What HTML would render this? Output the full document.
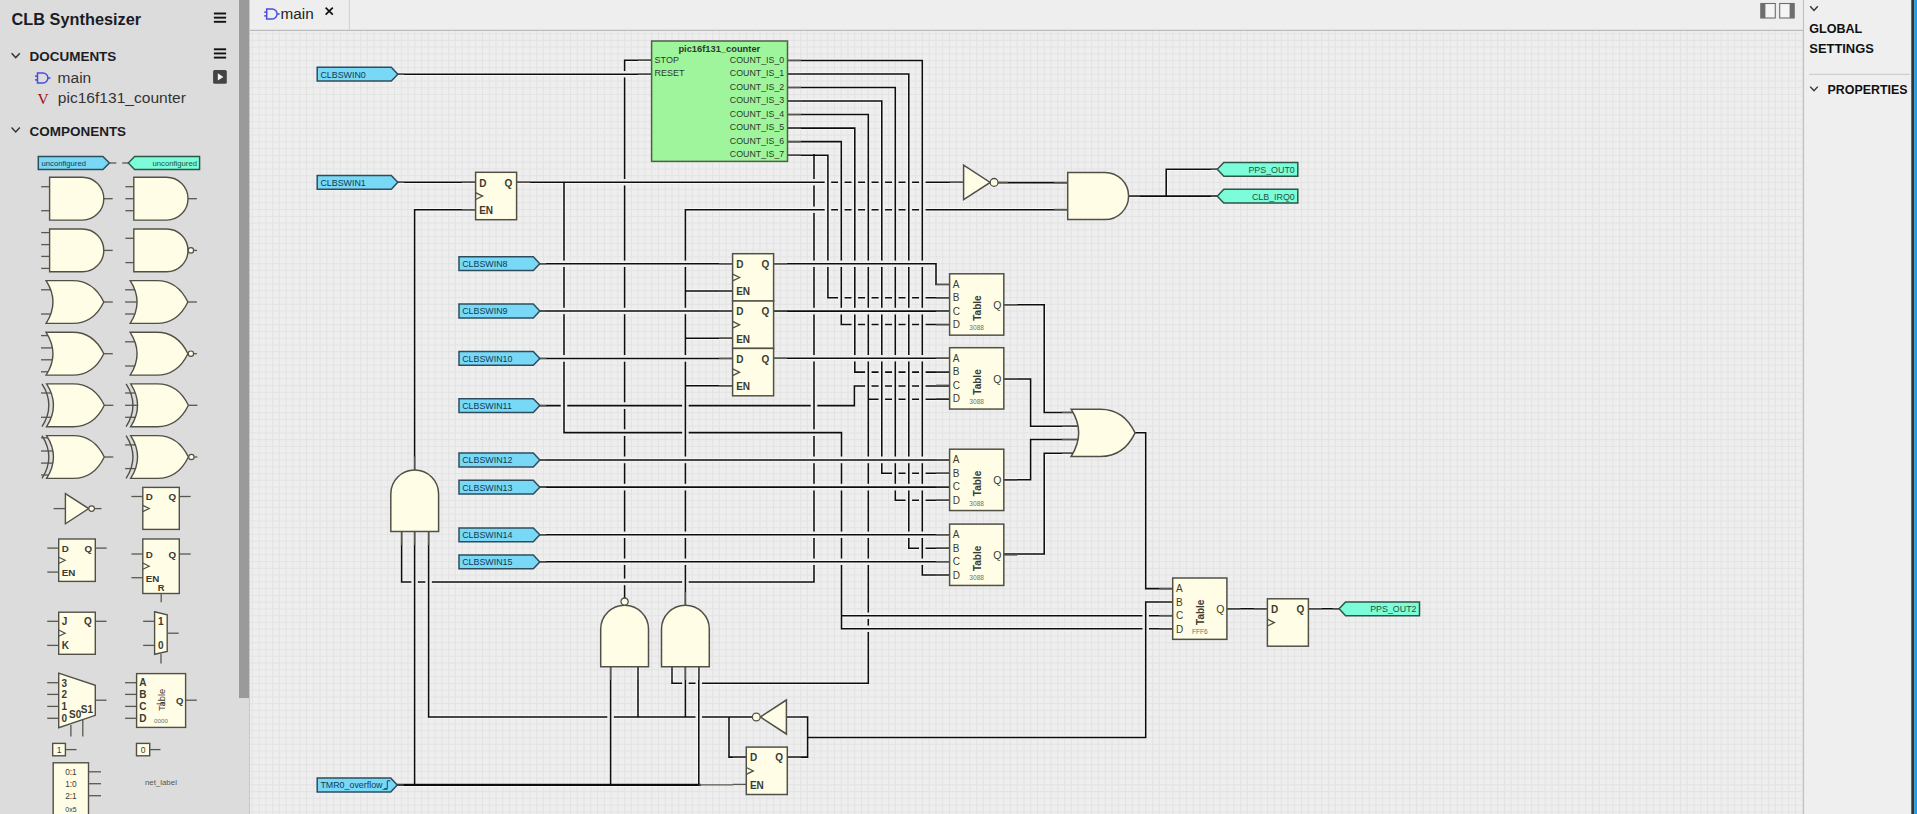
<!DOCTYPE html>
<html><head><meta charset="utf-8"><title>CLB Synthesizer</title>
<style>
html,body{margin:0;padding:0;width:1917px;height:814px;overflow:hidden;background:#efefef;}
svg{display:block;font-family:"Liberation Sans", sans-serif;}
</style></head><body>
<svg width="1917" height="814" viewBox="0 0 1917 814" font-family='"Liberation Sans", sans-serif'>
<defs>
</defs>
<rect x="0" y="0" width="1917" height="814" fill="#efefef"/>
<rect x="0" y="0" width="239" height="814" fill="#dcdcdc"/>
<rect x="239" y="0" width="10" height="698.3" fill="#9a9a9a"/>
<rect x="239" y="698.3" width="10" height="115.70000000000005" fill="#dcdcdc"/>
<rect x="249" y="0" width="1554.5" height="30" fill="#eeeeee"/>
<rect x="249" y="30.5" width="1554" height="783.5" fill="#eeeeee"/>
<path d="M252.4,31V814M259.17,31V814M265.94,31V814M272.7,31V814M279.47,31V814M286.24,31V814M293.01,31V814M299.78,31V814M306.54,31V814M313.31,31V814M320.08,31V814M326.85,31V814M333.62,31V814M340.38,31V814M347.15,31V814M353.92,31V814M360.69,31V814M367.46,31V814M374.22,31V814M380.99,31V814M387.76,31V814M394.53,31V814M401.3,31V814M408.06,31V814M414.83,31V814M421.6,31V814M428.37,31V814M435.14,31V814M441.9,31V814M448.67,31V814M455.44,31V814M462.21,31V814M468.98,31V814M475.74,31V814M482.51,31V814M489.28,31V814M496.05,31V814M502.82,31V814M509.58,31V814M516.35,31V814M523.12,31V814M529.89,31V814M536.66,31V814M543.42,31V814M550.19,31V814M556.96,31V814M563.73,31V814M570.5,31V814M577.26,31V814M584.03,31V814M590.8,31V814M597.57,31V814M604.34,31V814M611.1,31V814M617.87,31V814M624.64,31V814M631.41,31V814M638.18,31V814M644.94,31V814M651.71,31V814M658.48,31V814M665.25,31V814M672.02,31V814M678.78,31V814M685.55,31V814M692.32,31V814M699.09,31V814M705.86,31V814M712.62,31V814M719.39,31V814M726.16,31V814M732.93,31V814M739.7,31V814M746.46,31V814M753.23,31V814M760,31V814M766.77,31V814M773.54,31V814M780.3,31V814M787.07,31V814M793.84,31V814M800.61,31V814M807.38,31V814M814.14,31V814M820.91,31V814M827.68,31V814M834.45,31V814M841.22,31V814M847.98,31V814M854.75,31V814M861.52,31V814M868.29,31V814M875.06,31V814M881.82,31V814M888.59,31V814M895.36,31V814M902.13,31V814M908.9,31V814M915.66,31V814M922.43,31V814M929.2,31V814M935.97,31V814M942.74,31V814M949.5,31V814M956.27,31V814M963.04,31V814M969.81,31V814M976.58,31V814M983.34,31V814M990.11,31V814M996.88,31V814M1003.65,31V814M1010.42,31V814M1017.18,31V814M1023.95,31V814M1030.72,31V814M1037.49,31V814M1044.26,31V814M1051.02,31V814M1057.79,31V814M1064.56,31V814M1071.33,31V814M1078.1,31V814M1084.86,31V814M1091.63,31V814M1098.4,31V814M1105.17,31V814M1111.94,31V814M1118.7,31V814M1125.47,31V814M1132.24,31V814M1139.01,31V814M1145.78,31V814M1152.54,31V814M1159.31,31V814M1166.08,31V814M1172.85,31V814M1179.62,31V814M1186.38,31V814M1193.15,31V814M1199.92,31V814M1206.69,31V814M1213.46,31V814M1220.22,31V814M1226.99,31V814M1233.76,31V814M1240.53,31V814M1247.3,31V814M1254.06,31V814M1260.83,31V814M1267.6,31V814M1274.37,31V814M1281.14,31V814M1287.9,31V814M1294.67,31V814M1301.44,31V814M1308.21,31V814M1314.98,31V814M1321.74,31V814M1328.51,31V814M1335.28,31V814M1342.05,31V814M1348.82,31V814M1355.58,31V814M1362.35,31V814M1369.12,31V814M1375.89,31V814M1382.66,31V814M1389.42,31V814M1396.19,31V814M1402.96,31V814M1409.73,31V814M1416.5,31V814M1423.26,31V814M1430.03,31V814M1436.8,31V814M1443.57,31V814M1450.34,31V814M1457.1,31V814M1463.87,31V814M1470.64,31V814M1477.41,31V814M1484.18,31V814M1490.94,31V814M1497.71,31V814M1504.48,31V814M1511.25,31V814M1518.02,31V814M1524.78,31V814M1531.55,31V814M1538.32,31V814M1545.09,31V814M1551.86,31V814M1558.62,31V814M1565.39,31V814M1572.16,31V814M1578.93,31V814M1585.7,31V814M1592.46,31V814M1599.23,31V814M1606,31V814M1612.77,31V814M1619.54,31V814M1626.3,31V814M1633.07,31V814M1639.84,31V814M1646.61,31V814M1653.38,31V814M1660.14,31V814M1666.91,31V814M1673.68,31V814M1680.45,31V814M1687.22,31V814M1693.98,31V814M1700.75,31V814M1707.52,31V814M1714.29,31V814M1721.06,31V814M1727.82,31V814M1734.59,31V814M1741.36,31V814M1748.13,31V814M1754.9,31V814M1761.66,31V814M1768.43,31V814M1775.2,31V814M1781.97,31V814M1788.74,31V814M1795.5,31V814M1802.27,31V814M249.5,33.6H1803M249.5,40.37H1803M249.5,47.14H1803M249.5,53.9H1803M249.5,60.67H1803M249.5,67.44H1803M249.5,74.21H1803M249.5,80.98H1803M249.5,87.74H1803M249.5,94.51H1803M249.5,101.28H1803M249.5,108.05H1803M249.5,114.82H1803M249.5,121.58H1803M249.5,128.35H1803M249.5,135.12H1803M249.5,141.89H1803M249.5,148.66H1803M249.5,155.42H1803M249.5,162.19H1803M249.5,168.96H1803M249.5,175.73H1803M249.5,182.5H1803M249.5,189.26H1803M249.5,196.03H1803M249.5,202.8H1803M249.5,209.57H1803M249.5,216.34H1803M249.5,223.1H1803M249.5,229.87H1803M249.5,236.64H1803M249.5,243.41H1803M249.5,250.18H1803M249.5,256.94H1803M249.5,263.71H1803M249.5,270.48H1803M249.5,277.25H1803M249.5,284.02H1803M249.5,290.78H1803M249.5,297.55H1803M249.5,304.32H1803M249.5,311.09H1803M249.5,317.86H1803M249.5,324.62H1803M249.5,331.39H1803M249.5,338.16H1803M249.5,344.93H1803M249.5,351.7H1803M249.5,358.46H1803M249.5,365.23H1803M249.5,372H1803M249.5,378.77H1803M249.5,385.54H1803M249.5,392.3H1803M249.5,399.07H1803M249.5,405.84H1803M249.5,412.61H1803M249.5,419.38H1803M249.5,426.14H1803M249.5,432.91H1803M249.5,439.68H1803M249.5,446.45H1803M249.5,453.22H1803M249.5,459.98H1803M249.5,466.75H1803M249.5,473.52H1803M249.5,480.29H1803M249.5,487.06H1803M249.5,493.82H1803M249.5,500.59H1803M249.5,507.36H1803M249.5,514.13H1803M249.5,520.9H1803M249.5,527.66H1803M249.5,534.43H1803M249.5,541.2H1803M249.5,547.97H1803M249.5,554.74H1803M249.5,561.5H1803M249.5,568.27H1803M249.5,575.04H1803M249.5,581.81H1803M249.5,588.58H1803M249.5,595.34H1803M249.5,602.11H1803M249.5,608.88H1803M249.5,615.65H1803M249.5,622.42H1803M249.5,629.18H1803M249.5,635.95H1803M249.5,642.72H1803M249.5,649.49H1803M249.5,656.26H1803M249.5,663.02H1803M249.5,669.79H1803M249.5,676.56H1803M249.5,683.33H1803M249.5,690.1H1803M249.5,696.86H1803M249.5,703.63H1803M249.5,710.4H1803M249.5,717.17H1803M249.5,723.94H1803M249.5,730.7H1803M249.5,737.47H1803M249.5,744.24H1803M249.5,751.01H1803M249.5,757.78H1803M249.5,764.54H1803M249.5,771.31H1803M249.5,778.08H1803M249.5,784.85H1803M249.5,791.62H1803M249.5,798.38H1803M249.5,805.15H1803M249.5,811.92H1803" stroke="#e3e3e3" stroke-width="1" fill="none"/>
<line x1="249" y1="30.4" x2="1803.5" y2="30.4" stroke="#bdbdbd" stroke-width="1.2" />
<line x1="249.5" y1="0" x2="249.5" y2="814" stroke="#c9c9c9" stroke-width="1" />
<line x1="349.3" y1="0" x2="349.3" y2="30" stroke="#cfcfcf" stroke-width="1" />
<line x1="1803.5" y1="0" x2="1803.5" y2="814" stroke="#c2c2c2" stroke-width="1.2" />
<rect x="1911.3" y="0" width="3" height="814" fill="#333333"/>
<rect x="1914.3" y="0" width="2.7" height="814" fill="#1c9de6"/>
<path d="M624.6,60.3H651.6M624.6,60.3V70.12M624.6,78.28V178.23M624.6,186.38V259.62M624.6,267.77V306.93M624.6,315.07V354.32M624.6,362.47V401.53M624.6,409.68V428.53M624.6,436.68V455.82M624.6,463.97V483.03M624.6,491.18V530.62M624.6,538.78V557.72M624.6,565.88V577.82M624.6,585.98V598M540,405.6H559.92M568.08,405.6H681.32M689.48,405.6H809.92M818.08,405.6H854.4M854.4,385.9V405.6M401.6,581.9H410.53M418.68,581.9H424.53M432.68,581.9H681.32M689.48,581.9H814M401.6,531.4V581.9M672,683.2H681.32M689.48,683.2H694.72M702.88,683.2H868.3M672,666.7V683.2M814,154.8V178.23M814,186.38V205.62M814,213.77V259.62M814,267.77V307.03M814,315.18V354.23M814,362.38V428.53M814,436.68V455.82M814,463.97V483.03M814,491.18V530.62M814,538.78V557.72M814,565.88V581.9M428.6,717H606.52M614.68,717H694.72M702.88,717H752.4M428.6,531.4V717M564,432.6H681.32M689.48,432.6H841.5M398,74.2H651.6M398,182.3H475.6M516.6,182.3H823.82M831.98,182.3H837.22M845.38,182.3H850.72M858.88,182.3H864.22M872.38,182.3H877.72M885.88,182.3H891.22M899.38,182.3H904.72M912.88,182.3H918.22M926.38,182.3H963.6M685.4,209.7H823.82M831.98,209.7H837.22M845.38,209.7H850.72M858.88,209.7H864.22M872.38,209.7H877.72M885.88,209.7H891.22M899.38,209.7H904.72M912.88,209.7H918.22M926.38,209.7H1067.7M998,182.6H1067.7M1128.6,196.1H1217.3M1166.2,169.3V196.1M1166.2,169.3H1217.3M1003.8,304.8H1044.2M1044.2,304.8V412.4M1044.2,412.4H1076M1003.8,379H1030.6M1030.6,379V426.2M1030.6,426.2H1077M1003.8,479.7H1030.6M1030.6,439.5V479.7M1030.6,439.5H1077M1003.8,554H1044.2M1044.2,453.3V554M1044.2,453.3H1075M1227.3,608.8H1267.4M1308.4,608.8H1339.1M564,182.3V259.62M564,267.77V306.93M564,315.07V354.32M564,362.47V432.6M685.4,209.7V259.62M685.4,267.77V306.93M685.4,315.07V354.32M685.4,362.47V455.82M685.4,463.97V483.03M685.4,491.18V530.62M685.4,538.78V557.72M685.4,565.88V605.3M685.4,291H732.6M685.4,338.3H732.6M685.4,385.7H732.6M414.6,531.4V784.9M610.6,666.7V784.9M698.8,666.7V784.9M414.6,209.7V470M414.6,209.7H475.6M638,666.7V717M685.4,666.7V717M729,717V757.1M729,757.1H746.3M787,757.1H807.6M807.6,717V757.1M786.4,717H807.6M854.4,385.9H864.22M872.38,385.9H877.72M885.88,385.9H891.22M899.38,385.9H904.72M912.88,385.9H918.22M926.38,385.9H949.6M922.3,575H949.6M908.8,548.2H918.22M926.38,548.2H949.6M895.3,500.3H904.72M912.88,500.3H918.22M926.38,500.3H949.6M881.8,473.3H891.22M899.38,473.3H904.72M912.88,473.3H918.22M926.38,473.3H949.6M868.3,399.2H877.72M885.88,399.2H891.22M899.38,399.2H904.72M912.88,399.2H918.22M926.38,399.2H949.6M854.8,372.1H864.22M872.38,372.1H877.72M885.88,372.1H891.22M899.38,372.1H904.72M912.88,372.1H918.22M926.38,372.1H949.6M841.3,324.5H850.72M858.88,324.5H864.22M872.38,324.5H877.72M885.88,324.5H891.22M899.38,324.5H904.72M912.88,324.5H918.22M926.38,324.5H949.6M827.9,297.8H837.22M845.38,297.8H850.72M858.88,297.8H864.22M872.38,297.8H877.72M885.88,297.8H891.22M899.38,297.8H904.72M912.88,297.8H918.22M926.38,297.8H949.6M841.5,432.6V455.82M841.5,463.97V483.03M841.5,491.18V530.62M841.5,538.78V557.72M841.5,565.88V628.8M787.5,60.4H922.3M922.3,60.4V259.62M922.3,267.77V307.03M922.3,315.18V354.23M922.3,362.38V455.82M922.3,463.97V483.03M922.3,491.18V530.62M922.3,538.78V557.72M922.3,565.88V575M787.5,73.94H908.8M908.8,73.94V259.62M908.8,267.77V307.03M908.8,315.18V354.23M908.8,362.38V455.82M908.8,463.97V483.03M908.8,491.18V530.62M908.8,538.78V548.2M787.5,87.48H895.3M895.3,87.48V259.62M895.3,267.77V307.03M895.3,315.18V354.23M895.3,362.38V455.82M895.3,463.97V483.03M895.3,491.18V500.3M787.5,101.02H881.8M881.8,101.02V259.62M881.8,267.77V307.03M881.8,315.18V354.23M881.8,362.38V455.82M881.8,463.97V473.3M787.5,114.56H868.3M868.3,114.56V259.62M868.3,267.77V307.03M868.3,315.18V354.23M868.3,362.38V399.2M787.5,128.1H854.8M854.8,128.1V259.62M854.8,267.77V307.03M854.8,315.18V354.23M854.8,362.38V372.1M787.5,141.64H841.3M841.3,141.64V259.62M841.3,267.77V307.03M841.3,315.18V324.5M787.5,155.18H827.9M827.9,155.18V259.62M827.9,267.77V297.8M868.3,399.2V455.82M868.3,463.97V483.03M868.3,491.18V530.62M868.3,538.78V557.72M868.3,565.88V611.62M868.3,619.78V624.72M868.3,632.88V683.2M841.5,628.8H1141.62M1149.78,628.8H1172.7M841.5,615.7H1141.62M1149.78,615.7H1172.7M540,263.7H732.6M773.6,263.7H936M936,263.7V284.4M936,284.4H949.6M540,311H732.6M773.6,311.1H949.6M540,358.4H732.6M773.6,358.3H949.6M540,459.9H949.6M540,487.1H949.6M540,534.7H949.6M540,561.8H949.6M1135,432.7H1145.7M1145.7,432.7V588.6M1145.7,588.6H1172.7M807.6,737.4H1145.7M1145.7,601.9V737.4M1145.7,601.9H1172.7" fill="none" stroke="#f6f6f6" stroke-width="3.35" stroke-linecap="butt"/><path d="M397.2,784.9H699.6" fill="none" stroke="#f6f6f6" stroke-width="4.0" stroke-linecap="butt"/><path d="M624.6,60.3H651.6M624.6,60.3V70.12M624.6,78.28V178.23M624.6,186.38V259.62M624.6,267.77V306.93M624.6,315.07V354.32M624.6,362.47V401.53M624.6,409.68V428.53M624.6,436.68V455.82M624.6,463.97V483.03M624.6,491.18V530.62M624.6,538.78V557.72M624.6,565.88V577.82M624.6,585.98V598M540,405.6H559.92M568.08,405.6H681.32M689.48,405.6H809.92M818.08,405.6H854.4M854.4,385.9V405.6M401.6,581.9H410.53M418.68,581.9H424.53M432.68,581.9H681.32M689.48,581.9H814M401.6,531.4V581.9M672,683.2H681.32M689.48,683.2H694.72M702.88,683.2H868.3M672,666.7V683.2M814,154.8V178.23M814,186.38V205.62M814,213.77V259.62M814,267.77V307.03M814,315.18V354.23M814,362.38V428.53M814,436.68V455.82M814,463.97V483.03M814,491.18V530.62M814,538.78V557.72M814,565.88V581.9M428.6,717H606.52M614.68,717H694.72M702.88,717H752.4M428.6,531.4V717M564,432.6H681.32M689.48,432.6H841.5M398,74.2H651.6M398,182.3H475.6M516.6,182.3H823.82M831.98,182.3H837.22M845.38,182.3H850.72M858.88,182.3H864.22M872.38,182.3H877.72M885.88,182.3H891.22M899.38,182.3H904.72M912.88,182.3H918.22M926.38,182.3H963.6M685.4,209.7H823.82M831.98,209.7H837.22M845.38,209.7H850.72M858.88,209.7H864.22M872.38,209.7H877.72M885.88,209.7H891.22M899.38,209.7H904.72M912.88,209.7H918.22M926.38,209.7H1067.7M998,182.6H1067.7M1128.6,196.1H1217.3M1166.2,169.3V196.1M1166.2,169.3H1217.3M1003.8,304.8H1044.2M1044.2,304.8V412.4M1044.2,412.4H1076M1003.8,379H1030.6M1030.6,379V426.2M1030.6,426.2H1077M1003.8,479.7H1030.6M1030.6,439.5V479.7M1030.6,439.5H1077M1003.8,554H1044.2M1044.2,453.3V554M1044.2,453.3H1075M1227.3,608.8H1267.4M1308.4,608.8H1339.1M564,182.3V259.62M564,267.77V306.93M564,315.07V354.32M564,362.47V432.6M685.4,209.7V259.62M685.4,267.77V306.93M685.4,315.07V354.32M685.4,362.47V455.82M685.4,463.97V483.03M685.4,491.18V530.62M685.4,538.78V557.72M685.4,565.88V605.3M685.4,291H732.6M685.4,338.3H732.6M685.4,385.7H732.6M414.6,531.4V784.9M610.6,666.7V784.9M698.8,666.7V784.9M414.6,209.7V470M414.6,209.7H475.6M638,666.7V717M685.4,666.7V717M729,717V757.1M729,757.1H746.3M787,757.1H807.6M807.6,717V757.1M786.4,717H807.6M854.4,385.9H864.22M872.38,385.9H877.72M885.88,385.9H891.22M899.38,385.9H904.72M912.88,385.9H918.22M926.38,385.9H949.6M922.3,575H949.6M908.8,548.2H918.22M926.38,548.2H949.6M895.3,500.3H904.72M912.88,500.3H918.22M926.38,500.3H949.6M881.8,473.3H891.22M899.38,473.3H904.72M912.88,473.3H918.22M926.38,473.3H949.6M868.3,399.2H877.72M885.88,399.2H891.22M899.38,399.2H904.72M912.88,399.2H918.22M926.38,399.2H949.6M854.8,372.1H864.22M872.38,372.1H877.72M885.88,372.1H891.22M899.38,372.1H904.72M912.88,372.1H918.22M926.38,372.1H949.6M841.3,324.5H850.72M858.88,324.5H864.22M872.38,324.5H877.72M885.88,324.5H891.22M899.38,324.5H904.72M912.88,324.5H918.22M926.38,324.5H949.6M827.9,297.8H837.22M845.38,297.8H850.72M858.88,297.8H864.22M872.38,297.8H877.72M885.88,297.8H891.22M899.38,297.8H904.72M912.88,297.8H918.22M926.38,297.8H949.6M841.5,432.6V455.82M841.5,463.97V483.03M841.5,491.18V530.62M841.5,538.78V557.72M841.5,565.88V628.8M787.5,60.4H922.3M922.3,60.4V259.62M922.3,267.77V307.03M922.3,315.18V354.23M922.3,362.38V455.82M922.3,463.97V483.03M922.3,491.18V530.62M922.3,538.78V557.72M922.3,565.88V575M787.5,73.94H908.8M908.8,73.94V259.62M908.8,267.77V307.03M908.8,315.18V354.23M908.8,362.38V455.82M908.8,463.97V483.03M908.8,491.18V530.62M908.8,538.78V548.2M787.5,87.48H895.3M895.3,87.48V259.62M895.3,267.77V307.03M895.3,315.18V354.23M895.3,362.38V455.82M895.3,463.97V483.03M895.3,491.18V500.3M787.5,101.02H881.8M881.8,101.02V259.62M881.8,267.77V307.03M881.8,315.18V354.23M881.8,362.38V455.82M881.8,463.97V473.3M787.5,114.56H868.3M868.3,114.56V259.62M868.3,267.77V307.03M868.3,315.18V354.23M868.3,362.38V399.2M787.5,128.1H854.8M854.8,128.1V259.62M854.8,267.77V307.03M854.8,315.18V354.23M854.8,362.38V372.1M787.5,141.64H841.3M841.3,141.64V259.62M841.3,267.77V307.03M841.3,315.18V324.5M787.5,155.18H827.9M827.9,155.18V259.62M827.9,267.77V297.8M868.3,399.2V455.82M868.3,463.97V483.03M868.3,491.18V530.62M868.3,538.78V557.72M868.3,565.88V611.62M868.3,619.78V624.72M868.3,632.88V683.2M841.5,628.8H1141.62M1149.78,628.8H1172.7M841.5,615.7H1141.62M1149.78,615.7H1172.7M540,263.7H732.6M773.6,263.7H936M936,263.7V284.4M936,284.4H949.6M540,311H732.6M773.6,311.1H949.6M540,358.4H732.6M773.6,358.3H949.6M540,459.9H949.6M540,487.1H949.6M540,534.7H949.6M540,561.8H949.6M1135,432.7H1145.7M1145.7,432.7V588.6M1145.7,588.6H1172.7M807.6,737.4H1145.7M1145.7,601.9V737.4M1145.7,601.9H1172.7" fill="none" stroke="#0d0d0d" stroke-width="1.55" stroke-linecap="square"/><path d="M397.2,784.9H699.6" fill="none" stroke="#0d0d0d" stroke-width="2.2" stroke-linecap="square"/>
<rect x="651.6" y="41" width="135.9" height="120.4" fill="#9ef59b" stroke="#4f5f4b" stroke-width="1.5"/>
<text x="719.3" y="51.9" font-size="9.2" fill="#2d3a2d" font-weight="bold" text-anchor="middle" textLength="81.8" lengthAdjust="spacingAndGlyphs">pic16f131_counter</text>
<line x1="638" y1="60.3" x2="651.6" y2="60.3" stroke="#58584f" stroke-width="1.3" />
<line x1="638" y1="74.2" x2="651.6" y2="74.2" stroke="#58584f" stroke-width="1.3" />
<text x="654.6" y="62.6" font-size="9" fill="#2d3a2d" font-weight="normal" text-anchor="start" >STOP</text>
<text x="654.6" y="76.4" font-size="9" fill="#2d3a2d" font-weight="normal" text-anchor="start" >RESET</text>
<line x1="787.5" y1="60.4" x2="801" y2="60.4" stroke="#58584f" stroke-width="1.3" />
<text x="784.3" y="62.7" font-size="9" fill="#2d3a2d" font-weight="normal" text-anchor="end" textLength="54.5" lengthAdjust="spacingAndGlyphs">COUNT_IS_0</text>
<line x1="787.5" y1="73.94" x2="801" y2="73.94" stroke="#58584f" stroke-width="1.3" />
<text x="784.3" y="76.24" font-size="9" fill="#2d3a2d" font-weight="normal" text-anchor="end" textLength="54.5" lengthAdjust="spacingAndGlyphs">COUNT_IS_1</text>
<line x1="787.5" y1="87.48" x2="801" y2="87.48" stroke="#58584f" stroke-width="1.3" />
<text x="784.3" y="89.78" font-size="9" fill="#2d3a2d" font-weight="normal" text-anchor="end" textLength="54.5" lengthAdjust="spacingAndGlyphs">COUNT_IS_2</text>
<line x1="787.5" y1="101.02" x2="801" y2="101.02" stroke="#58584f" stroke-width="1.3" />
<text x="784.3" y="103.32" font-size="9" fill="#2d3a2d" font-weight="normal" text-anchor="end" textLength="54.5" lengthAdjust="spacingAndGlyphs">COUNT_IS_3</text>
<line x1="787.5" y1="114.56" x2="801" y2="114.56" stroke="#58584f" stroke-width="1.3" />
<text x="784.3" y="116.86" font-size="9" fill="#2d3a2d" font-weight="normal" text-anchor="end" textLength="54.5" lengthAdjust="spacingAndGlyphs">COUNT_IS_4</text>
<line x1="787.5" y1="128.1" x2="801" y2="128.1" stroke="#58584f" stroke-width="1.3" />
<text x="784.3" y="130.4" font-size="9" fill="#2d3a2d" font-weight="normal" text-anchor="end" textLength="54.5" lengthAdjust="spacingAndGlyphs">COUNT_IS_5</text>
<line x1="787.5" y1="141.64" x2="801" y2="141.64" stroke="#58584f" stroke-width="1.3" />
<text x="784.3" y="143.94" font-size="9" fill="#2d3a2d" font-weight="normal" text-anchor="end" textLength="54.5" lengthAdjust="spacingAndGlyphs">COUNT_IS_6</text>
<line x1="787.5" y1="155.18" x2="801" y2="155.18" stroke="#58584f" stroke-width="1.3" />
<text x="784.3" y="157.48" font-size="9" fill="#2d3a2d" font-weight="normal" text-anchor="end" textLength="54.5" lengthAdjust="spacingAndGlyphs">COUNT_IS_7</text>
<line x1="462.1" y1="182.3" x2="475.6" y2="182.3" stroke="#58584f" stroke-width="1.3" />
<line x1="516.6" y1="182.3" x2="530.1" y2="182.3" stroke="#58584f" stroke-width="1.3" />
<line x1="462.1" y1="209.6" x2="475.6" y2="209.6" stroke="#58584f" stroke-width="1.3" />
<rect x="475.6" y="172.3" width="41" height="47.4" fill="#fffde6" stroke="#505048" stroke-width="1.5"/>
<path d="M475.6,192.7 L482.6,196.1 L475.6,199.5" fill="none" stroke="#505048" stroke-width="1.3"/>
<text x="479.2" y="186.6" font-size="10" fill="#3a3a33" font-weight="bold" text-anchor="start" >D</text>
<text x="512.4" y="186.6" font-size="10" fill="#3a3a33" font-weight="bold" text-anchor="end" >Q</text>
<text x="479.2" y="213.8" font-size="10" fill="#3a3a33" font-weight="bold" text-anchor="start" >EN</text>
<line x1="719.1" y1="263.7" x2="732.6" y2="263.7" stroke="#58584f" stroke-width="1.3" />
<line x1="773.6" y1="263.7" x2="787.1" y2="263.7" stroke="#58584f" stroke-width="1.3" />
<line x1="719.1" y1="291" x2="732.6" y2="291" stroke="#58584f" stroke-width="1.3" />
<rect x="732.6" y="253.7" width="41" height="47.4" fill="#fffde6" stroke="#505048" stroke-width="1.5"/>
<path d="M732.6,274.1 L739.6,277.5 L732.6,280.9" fill="none" stroke="#505048" stroke-width="1.3"/>
<text x="736.2" y="268" font-size="10" fill="#3a3a33" font-weight="bold" text-anchor="start" >D</text>
<text x="769.4" y="268" font-size="10" fill="#3a3a33" font-weight="bold" text-anchor="end" >Q</text>
<text x="736.2" y="295.2" font-size="10" fill="#3a3a33" font-weight="bold" text-anchor="start" >EN</text>
<line x1="719.1" y1="311" x2="732.6" y2="311" stroke="#58584f" stroke-width="1.3" />
<line x1="773.6" y1="311" x2="787.1" y2="311" stroke="#58584f" stroke-width="1.3" />
<line x1="719.1" y1="338.3" x2="732.6" y2="338.3" stroke="#58584f" stroke-width="1.3" />
<rect x="732.6" y="301" width="41" height="47.4" fill="#fffde6" stroke="#505048" stroke-width="1.5"/>
<path d="M732.6,321.4 L739.6,324.8 L732.6,328.2" fill="none" stroke="#505048" stroke-width="1.3"/>
<text x="736.2" y="315.3" font-size="10" fill="#3a3a33" font-weight="bold" text-anchor="start" >D</text>
<text x="769.4" y="315.3" font-size="10" fill="#3a3a33" font-weight="bold" text-anchor="end" >Q</text>
<text x="736.2" y="342.5" font-size="10" fill="#3a3a33" font-weight="bold" text-anchor="start" >EN</text>
<line x1="719.1" y1="358.4" x2="732.6" y2="358.4" stroke="#58584f" stroke-width="1.3" />
<line x1="773.6" y1="358.4" x2="787.1" y2="358.4" stroke="#58584f" stroke-width="1.3" />
<line x1="719.1" y1="385.7" x2="732.6" y2="385.7" stroke="#58584f" stroke-width="1.3" />
<rect x="732.6" y="348.4" width="41" height="47.4" fill="#fffde6" stroke="#505048" stroke-width="1.5"/>
<path d="M732.6,368.8 L739.6,372.2 L732.6,375.6" fill="none" stroke="#505048" stroke-width="1.3"/>
<text x="736.2" y="362.7" font-size="10" fill="#3a3a33" font-weight="bold" text-anchor="start" >D</text>
<text x="769.4" y="362.7" font-size="10" fill="#3a3a33" font-weight="bold" text-anchor="end" >Q</text>
<text x="736.2" y="389.9" font-size="10" fill="#3a3a33" font-weight="bold" text-anchor="start" >EN</text>
<line x1="698.8" y1="784.9" x2="733" y2="784.9" stroke="#5a5a52" stroke-width="1.2" />
<line x1="732.8" y1="757.1" x2="746.3" y2="757.1" stroke="#58584f" stroke-width="1.3" />
<line x1="787.3" y1="757.1" x2="800.8" y2="757.1" stroke="#58584f" stroke-width="1.3" />
<line x1="732.8" y1="784.4" x2="746.3" y2="784.4" stroke="#58584f" stroke-width="1.3" />
<rect x="746.3" y="747.1" width="41" height="47.4" fill="#fffde6" stroke="#505048" stroke-width="1.5"/>
<path d="M746.3,767.5 L753.3,770.9 L746.3,774.3" fill="none" stroke="#505048" stroke-width="1.3"/>
<text x="749.9" y="761.4" font-size="10" fill="#3a3a33" font-weight="bold" text-anchor="start" >D</text>
<text x="783.1" y="761.4" font-size="10" fill="#3a3a33" font-weight="bold" text-anchor="end" >Q</text>
<text x="749.9" y="788.6" font-size="10" fill="#3a3a33" font-weight="bold" text-anchor="start" >EN</text>
<line x1="1253.9" y1="608.8" x2="1267.4" y2="608.8" stroke="#58584f" stroke-width="1.3" />
<line x1="1308.4" y1="608.8" x2="1321.9" y2="608.8" stroke="#58584f" stroke-width="1.3" />
<rect x="1267.4" y="598.8" width="41" height="47.4" fill="#fffde6" stroke="#505048" stroke-width="1.5"/>
<path d="M1267.4,619.2 L1274.4,622.6 L1267.4,626" fill="none" stroke="#505048" stroke-width="1.3"/>
<text x="1271" y="613.1" font-size="10" fill="#3a3a33" font-weight="bold" text-anchor="start" >D</text>
<text x="1304.2" y="613.1" font-size="10" fill="#3a3a33" font-weight="bold" text-anchor="end" >Q</text>
<line x1="936.1" y1="284.4" x2="949.6" y2="284.4" stroke="#58584f" stroke-width="1.3" />
<line x1="936.1" y1="297.85" x2="949.6" y2="297.85" stroke="#58584f" stroke-width="1.3" />
<line x1="936.1" y1="311.3" x2="949.6" y2="311.3" stroke="#58584f" stroke-width="1.3" />
<line x1="936.1" y1="324.75" x2="949.6" y2="324.75" stroke="#58584f" stroke-width="1.3" />
<line x1="1003.8" y1="304.7" x2="1017.3" y2="304.7" stroke="#58584f" stroke-width="1.3" />
<rect x="949.6" y="273.8" width="54.2" height="61.35" fill="#fffde6" stroke="#505048" stroke-width="1.5"/>
<text x="952.8" y="288" font-size="10" fill="#3a3a33" font-weight="normal" text-anchor="start" >A</text>
<text x="952.8" y="301.45" font-size="10" fill="#3a3a33" font-weight="normal" text-anchor="start" >B</text>
<text x="952.8" y="314.9" font-size="10" fill="#3a3a33" font-weight="normal" text-anchor="start" >C</text>
<text x="952.8" y="328.35" font-size="10" fill="#3a3a33" font-weight="normal" text-anchor="start" >D</text>
<text x="1001.3" y="308.7" font-size="10.5" fill="#3a3a33" font-weight="normal" text-anchor="end" >Q</text>
<text x="0" y="0" font-size="10" fill="#3a3a33" font-weight="bold" text-anchor="middle" transform="translate(980.9,308.07) rotate(-90)">Table</text>
<text x="976.7" y="330.15" font-size="6.6" fill="#707068" font-weight="normal" text-anchor="middle" >3088</text>
<line x1="936.1" y1="358.3" x2="949.6" y2="358.3" stroke="#58584f" stroke-width="1.3" />
<line x1="936.1" y1="371.75" x2="949.6" y2="371.75" stroke="#58584f" stroke-width="1.3" />
<line x1="936.1" y1="385.2" x2="949.6" y2="385.2" stroke="#58584f" stroke-width="1.3" />
<line x1="936.1" y1="398.65" x2="949.6" y2="398.65" stroke="#58584f" stroke-width="1.3" />
<line x1="1003.8" y1="378.6" x2="1017.3" y2="378.6" stroke="#58584f" stroke-width="1.3" />
<rect x="949.6" y="347.7" width="54.2" height="61.35" fill="#fffde6" stroke="#505048" stroke-width="1.5"/>
<text x="952.8" y="361.9" font-size="10" fill="#3a3a33" font-weight="normal" text-anchor="start" >A</text>
<text x="952.8" y="375.35" font-size="10" fill="#3a3a33" font-weight="normal" text-anchor="start" >B</text>
<text x="952.8" y="388.8" font-size="10" fill="#3a3a33" font-weight="normal" text-anchor="start" >C</text>
<text x="952.8" y="402.25" font-size="10" fill="#3a3a33" font-weight="normal" text-anchor="start" >D</text>
<text x="1001.3" y="382.6" font-size="10.5" fill="#3a3a33" font-weight="normal" text-anchor="end" >Q</text>
<text x="0" y="0" font-size="10" fill="#3a3a33" font-weight="bold" text-anchor="middle" transform="translate(980.9,381.98) rotate(-90)">Table</text>
<text x="976.7" y="404.05" font-size="6.6" fill="#707068" font-weight="normal" text-anchor="middle" >3088</text>
<line x1="936.1" y1="459.8" x2="949.6" y2="459.8" stroke="#58584f" stroke-width="1.3" />
<line x1="936.1" y1="473.25" x2="949.6" y2="473.25" stroke="#58584f" stroke-width="1.3" />
<line x1="936.1" y1="486.7" x2="949.6" y2="486.7" stroke="#58584f" stroke-width="1.3" />
<line x1="936.1" y1="500.15" x2="949.6" y2="500.15" stroke="#58584f" stroke-width="1.3" />
<line x1="1003.8" y1="480.1" x2="1017.3" y2="480.1" stroke="#58584f" stroke-width="1.3" />
<rect x="949.6" y="449.2" width="54.2" height="61.35" fill="#fffde6" stroke="#505048" stroke-width="1.5"/>
<text x="952.8" y="463.4" font-size="10" fill="#3a3a33" font-weight="normal" text-anchor="start" >A</text>
<text x="952.8" y="476.85" font-size="10" fill="#3a3a33" font-weight="normal" text-anchor="start" >B</text>
<text x="952.8" y="490.3" font-size="10" fill="#3a3a33" font-weight="normal" text-anchor="start" >C</text>
<text x="952.8" y="503.75" font-size="10" fill="#3a3a33" font-weight="normal" text-anchor="start" >D</text>
<text x="1001.3" y="484.1" font-size="10.5" fill="#3a3a33" font-weight="normal" text-anchor="end" >Q</text>
<text x="0" y="0" font-size="10" fill="#3a3a33" font-weight="bold" text-anchor="middle" transform="translate(980.9,483.48) rotate(-90)">Table</text>
<text x="976.7" y="505.55" font-size="6.6" fill="#707068" font-weight="normal" text-anchor="middle" >3088</text>
<line x1="936.1" y1="534.7" x2="949.6" y2="534.7" stroke="#58584f" stroke-width="1.3" />
<line x1="936.1" y1="548.15" x2="949.6" y2="548.15" stroke="#58584f" stroke-width="1.3" />
<line x1="936.1" y1="561.6" x2="949.6" y2="561.6" stroke="#58584f" stroke-width="1.3" />
<line x1="936.1" y1="575.05" x2="949.6" y2="575.05" stroke="#58584f" stroke-width="1.3" />
<line x1="1003.8" y1="555" x2="1017.3" y2="555" stroke="#58584f" stroke-width="1.3" />
<rect x="949.6" y="524.1" width="54.2" height="61.35" fill="#fffde6" stroke="#505048" stroke-width="1.5"/>
<text x="952.8" y="538.3" font-size="10" fill="#3a3a33" font-weight="normal" text-anchor="start" >A</text>
<text x="952.8" y="551.75" font-size="10" fill="#3a3a33" font-weight="normal" text-anchor="start" >B</text>
<text x="952.8" y="565.2" font-size="10" fill="#3a3a33" font-weight="normal" text-anchor="start" >C</text>
<text x="952.8" y="578.65" font-size="10" fill="#3a3a33" font-weight="normal" text-anchor="start" >D</text>
<text x="1001.3" y="559" font-size="10.5" fill="#3a3a33" font-weight="normal" text-anchor="end" >Q</text>
<text x="0" y="0" font-size="10" fill="#3a3a33" font-weight="bold" text-anchor="middle" transform="translate(980.9,558.38) rotate(-90)">Table</text>
<text x="976.7" y="580.45" font-size="6.6" fill="#707068" font-weight="normal" text-anchor="middle" >3088</text>
<line x1="1159.2" y1="588.6" x2="1172.7" y2="588.6" stroke="#58584f" stroke-width="1.3" />
<line x1="1159.2" y1="602.05" x2="1172.7" y2="602.05" stroke="#58584f" stroke-width="1.3" />
<line x1="1159.2" y1="615.5" x2="1172.7" y2="615.5" stroke="#58584f" stroke-width="1.3" />
<line x1="1159.2" y1="628.95" x2="1172.7" y2="628.95" stroke="#58584f" stroke-width="1.3" />
<line x1="1226.9" y1="608.9" x2="1240.4" y2="608.9" stroke="#58584f" stroke-width="1.3" />
<rect x="1172.7" y="578" width="54.2" height="61.35" fill="#fffde6" stroke="#505048" stroke-width="1.5"/>
<text x="1175.9" y="592.2" font-size="10" fill="#3a3a33" font-weight="normal" text-anchor="start" >A</text>
<text x="1175.9" y="605.65" font-size="10" fill="#3a3a33" font-weight="normal" text-anchor="start" >B</text>
<text x="1175.9" y="619.1" font-size="10" fill="#3a3a33" font-weight="normal" text-anchor="start" >C</text>
<text x="1175.9" y="632.55" font-size="10" fill="#3a3a33" font-weight="normal" text-anchor="start" >D</text>
<text x="1224.4" y="612.9" font-size="10.5" fill="#3a3a33" font-weight="normal" text-anchor="end" >Q</text>
<text x="0" y="0" font-size="10" fill="#3a3a33" font-weight="bold" text-anchor="middle" transform="translate(1204,612.27) rotate(-90)">Table</text>
<text x="1199.8" y="634.35" font-size="6.6" fill="#707068" font-weight="normal" text-anchor="middle" >FFF6</text>
<line x1="950" y1="182.4" x2="963.6" y2="182.4" stroke="#58584f" stroke-width="1.3" />
<path d="M963.6,165.1 L990.2,182.4 L963.6,199.7 Z" fill="#fffde6" stroke="#505048" stroke-width="1.5"/>
<circle cx="994.1" cy="182.4" r="3.9" fill="#fffde6" stroke="#505048" stroke-width="1.3"/>
<line x1="998" y1="182.4" x2="1008" y2="182.4" stroke="#58584f" stroke-width="1.3" />
<line x1="786.4" y1="717" x2="800" y2="717" stroke="#58584f" stroke-width="1.3" />
<path d="M786.4,700 L760.4,717 L786.4,734 Z" fill="#fffde6" stroke="#505048" stroke-width="1.5"/>
<circle cx="756.3" cy="717" r="3.9" fill="#fffde6" stroke="#505048" stroke-width="1.3"/>
<line x1="1054" y1="182.7" x2="1067.7" y2="182.7" stroke="#58584f" stroke-width="1.3" />
<line x1="1054" y1="209.4" x2="1067.7" y2="209.4" stroke="#58584f" stroke-width="1.3" />
<path d="M1067.7,172.4 L1105,172.4 A23.6,23.6 0 0 1 1105,219.6 L1067.7,219.6 Z" fill="#fffde6" stroke="#505048" stroke-width="1.5" stroke-linejoin="miter"/>
<line x1="1128.6" y1="196" x2="1140" y2="196" stroke="#58584f" stroke-width="1.3" />
<line x1="1062" y1="412.4" x2="1079" y2="412.4" stroke="#58584f" stroke-width="1.3" />
<line x1="1062" y1="426.2" x2="1079" y2="426.2" stroke="#58584f" stroke-width="1.3" />
<line x1="1062" y1="439.5" x2="1079" y2="439.5" stroke="#58584f" stroke-width="1.3" />
<line x1="1062" y1="453.3" x2="1079" y2="453.3" stroke="#58584f" stroke-width="1.3" />
<path d="M1071.1,409.2 L1100.54,409.2 C1118.46,409.2 1128.7,419.61 1135.1,432.85 C1128.7,446.09 1118.46,456.5 1100.54,456.5 L1071.1,456.5 Q1086.24,432.85 1071.1,409.2 Z" fill="#fffde6" stroke="#505048" stroke-width="1.5"/>
<line x1="401.6" y1="531.4" x2="401.6" y2="545" stroke="#58584f" stroke-width="1.3" />
<line x1="414.6" y1="531.4" x2="414.6" y2="545" stroke="#58584f" stroke-width="1.3" />
<line x1="428.6" y1="531.4" x2="428.6" y2="545" stroke="#58584f" stroke-width="1.3" />
<line x1="414.6" y1="456.5" x2="414.6" y2="470" stroke="#58584f" stroke-width="1.3" />
<path d="M390.8,531.4 L390.8,493.9 A23.9,23.9 0 0 1 438.6,493.9 L438.6,531.4 Z" fill="#fffde6" stroke="#505048" stroke-width="1.5" stroke-linejoin="miter"/>
<line x1="610.6" y1="666.7" x2="610.6" y2="680" stroke="#58584f" stroke-width="1.3" />
<line x1="638" y1="666.7" x2="638" y2="680" stroke="#58584f" stroke-width="1.3" />
<path d="M600.7,666.7 L600.7,629.2 A23.9,23.9 0 0 1 648.5,629.2 L648.5,666.7 Z" fill="#fffde6" stroke="#505048" stroke-width="1.5" stroke-linejoin="miter"/>
<circle cx="624.6" cy="601.6" r="3.6" fill="#fffde6" stroke="#505048" stroke-width="1.3"/>
<line x1="672" y1="666.7" x2="672" y2="680" stroke="#58584f" stroke-width="1.3" />
<line x1="685.4" y1="666.7" x2="685.4" y2="680" stroke="#58584f" stroke-width="1.3" />
<line x1="698.8" y1="666.7" x2="698.8" y2="680" stroke="#58584f" stroke-width="1.3" />
<path d="M661.5,666.7 L661.5,629.2 A23.9,23.9 0 0 1 709.3,629.2 L709.3,666.7 Z" fill="#fffde6" stroke="#505048" stroke-width="1.5" stroke-linejoin="miter"/>
<line x1="685.4" y1="592" x2="685.4" y2="605.3" stroke="#58584f" stroke-width="1.3" />
<line x1="397.8" y1="74.2" x2="404.3" y2="74.2" stroke="#58584f" stroke-width="1.3" />
<path d="M317.2,67.3 L391.3,67.3 L397.8,74.2 L391.3,81.1 L317.2,81.1 Z" fill="#78d8f6" stroke="#2e4d5c" stroke-width="1.5"/>
<text x="320.4" y="77.6" font-size="8.9" fill="#0e3c52" font-weight="normal" text-anchor="start" >CLBSWIN0</text>
<line x1="397.8" y1="182.3" x2="404.3" y2="182.3" stroke="#58584f" stroke-width="1.3" />
<path d="M317.2,175.4 L391.3,175.4 L397.8,182.3 L391.3,189.2 L317.2,189.2 Z" fill="#78d8f6" stroke="#2e4d5c" stroke-width="1.5"/>
<text x="320.4" y="185.7" font-size="8.9" fill="#0e3c52" font-weight="normal" text-anchor="start" >CLBSWIN1</text>
<line x1="539.8" y1="263.7" x2="546.3" y2="263.7" stroke="#58584f" stroke-width="1.3" />
<path d="M459,256.8 L533.3,256.8 L539.8,263.7 L533.3,270.6 L459,270.6 Z" fill="#78d8f6" stroke="#2e4d5c" stroke-width="1.5"/>
<text x="462.2" y="267.1" font-size="8.9" fill="#0e3c52" font-weight="normal" text-anchor="start" >CLBSWIN8</text>
<line x1="539.8" y1="311" x2="546.3" y2="311" stroke="#58584f" stroke-width="1.3" />
<path d="M459,304.1 L533.3,304.1 L539.8,311 L533.3,317.9 L459,317.9 Z" fill="#78d8f6" stroke="#2e4d5c" stroke-width="1.5"/>
<text x="462.2" y="314.4" font-size="8.9" fill="#0e3c52" font-weight="normal" text-anchor="start" >CLBSWIN9</text>
<line x1="539.8" y1="358.4" x2="546.3" y2="358.4" stroke="#58584f" stroke-width="1.3" />
<path d="M459,351.5 L533.3,351.5 L539.8,358.4 L533.3,365.3 L459,365.3 Z" fill="#78d8f6" stroke="#2e4d5c" stroke-width="1.5"/>
<text x="462.2" y="361.8" font-size="8.9" fill="#0e3c52" font-weight="normal" text-anchor="start" >CLBSWIN10</text>
<line x1="539.8" y1="405.6" x2="546.3" y2="405.6" stroke="#58584f" stroke-width="1.3" />
<path d="M459,398.7 L533.3,398.7 L539.8,405.6 L533.3,412.5 L459,412.5 Z" fill="#78d8f6" stroke="#2e4d5c" stroke-width="1.5"/>
<text x="462.2" y="409" font-size="8.9" fill="#0e3c52" font-weight="normal" text-anchor="start" >CLBSWIN11</text>
<line x1="539.8" y1="460" x2="546.3" y2="460" stroke="#58584f" stroke-width="1.3" />
<path d="M459,453.1 L533.3,453.1 L539.8,460 L533.3,466.9 L459,466.9 Z" fill="#78d8f6" stroke="#2e4d5c" stroke-width="1.5"/>
<text x="462.2" y="463.4" font-size="8.9" fill="#0e3c52" font-weight="normal" text-anchor="start" >CLBSWIN12</text>
<line x1="539.8" y1="487.2" x2="546.3" y2="487.2" stroke="#58584f" stroke-width="1.3" />
<path d="M459,480.3 L533.3,480.3 L539.8,487.2 L533.3,494.1 L459,494.1 Z" fill="#78d8f6" stroke="#2e4d5c" stroke-width="1.5"/>
<text x="462.2" y="490.6" font-size="8.9" fill="#0e3c52" font-weight="normal" text-anchor="start" >CLBSWIN13</text>
<line x1="539.8" y1="534.8" x2="546.3" y2="534.8" stroke="#58584f" stroke-width="1.3" />
<path d="M459,527.9 L533.3,527.9 L539.8,534.8 L533.3,541.7 L459,541.7 Z" fill="#78d8f6" stroke="#2e4d5c" stroke-width="1.5"/>
<text x="462.2" y="538.2" font-size="8.9" fill="#0e3c52" font-weight="normal" text-anchor="start" >CLBSWIN14</text>
<line x1="539.8" y1="561.9" x2="546.3" y2="561.9" stroke="#58584f" stroke-width="1.3" />
<path d="M459,555 L533.3,555 L539.8,561.9 L533.3,568.8 L459,568.8 Z" fill="#78d8f6" stroke="#2e4d5c" stroke-width="1.5"/>
<text x="462.2" y="565.3" font-size="8.9" fill="#0e3c52" font-weight="normal" text-anchor="start" >CLBSWIN15</text>
<line x1="397.2" y1="785" x2="403.7" y2="785" stroke="#58584f" stroke-width="1.3" />
<path d="M317.2,778.1 L390.7,778.1 L397.2,785 L390.7,791.9 L317.2,791.9 Z" fill="#78d8f6" stroke="#2e4d5c" stroke-width="1.5"/>
<text x="320.4" y="788.4" font-size="8.9" fill="#0e3c52" font-weight="normal" text-anchor="start" >TMR0_overflow_</text>
<path d="M384.2,788.6 L387.3,788.6 L387.3,780.8 L390.4,780.8" fill="none" stroke="#0e3c52" stroke-width="0.9"/>
<line x1="1210.8" y1="169.3" x2="1217.3" y2="169.3" stroke="#58584f" stroke-width="1.3" />
<path d="M1297.8,162.4 L1223.8,162.4 L1217.3,169.3 L1223.8,176.2 L1297.8,176.2 Z" fill="#7cfcd9" stroke="#2b5648" stroke-width="1.5"/>
<text x="1294.8" y="172.7" font-size="8.9" fill="#1d5440" font-weight="normal" text-anchor="end" >PPS_OUT0</text>
<line x1="1210.8" y1="196.2" x2="1217.3" y2="196.2" stroke="#58584f" stroke-width="1.3" />
<path d="M1297.8,189.3 L1223.8,189.3 L1217.3,196.2 L1223.8,203.1 L1297.8,203.1 Z" fill="#7cfcd9" stroke="#2b5648" stroke-width="1.5"/>
<text x="1294.8" y="199.6" font-size="8.9" fill="#1d5440" font-weight="normal" text-anchor="end" >CLB_IRQ0</text>
<line x1="1332.6" y1="608.8" x2="1339.1" y2="608.8" stroke="#58584f" stroke-width="1.3" />
<path d="M1419.5,601.9 L1345.6,601.9 L1339.1,608.8 L1345.6,615.7 L1419.5,615.7 Z" fill="#7cfcd9" stroke="#2b5648" stroke-width="1.5"/>
<text x="1416.5" y="612.2" font-size="8.9" fill="#1d5440" font-weight="normal" text-anchor="end" >PPS_OUT2</text>
<rect x="1760.8" y="3.5" width="14.5" height="14.5" fill="#f4f4f4" stroke="#6e6e6e" stroke-width="1.1"/>
<rect x="1760.8" y="3.5" width="4.6" height="14.5" fill="#6e6e6e"/>
<rect x="1779.7" y="3.5" width="14.5" height="14.5" fill="#f4f4f4" stroke="#6e6e6e" stroke-width="1.1"/>
<rect x="1789.6" y="3.5" width="4.6" height="14.5" fill="#6e6e6e"/>
<path d="M266.7,9.1 L272.2,9.1 A4.9,4.9 0 0 1 272.2,18.9 L266.7,18.9 Z" fill="none" stroke="#4b4be0" stroke-width="1.5"/>
<line x1="264.2" y1="12.1" x2="266.7" y2="12.1" stroke="#4b4be0" stroke-width="1.5"/>
<line x1="264.2" y1="15.9" x2="266.7" y2="15.9" stroke="#4b4be0" stroke-width="1.5"/>
<line x1="277.1" y1="14" x2="279.7" y2="14" stroke="#4b4be0" stroke-width="1.5"/>
<text x="280.6" y="19" font-size="15.3" fill="#222" font-weight="normal" text-anchor="start" >main</text>
<path d="M325.6,7.6 L332.8,14.6 M332.8,7.6 L325.6,14.6" stroke="#111" stroke-width="1.7"/>
<path d="M1810.2,6.3 L1814,10.5 L1817.8,6.3" fill="none" stroke="#333" stroke-width="1.4"/>
<text x="1809.3" y="33.4" font-size="12.6" fill="#111" font-weight="bold" text-anchor="start" textLength="53" lengthAdjust="spacingAndGlyphs">GLOBAL</text>
<text x="1809.3" y="52.6" font-size="12.6" fill="#111" font-weight="bold" text-anchor="start" textLength="64.5" lengthAdjust="spacingAndGlyphs">SETTINGS</text>
<line x1="1809" y1="74.3" x2="1910" y2="74.3" stroke="#c6c6c6" stroke-width="1" />
<path d="M1810.2,86.6 L1814,90.8 L1817.8,86.6" fill="none" stroke="#333" stroke-width="1.4"/>
<text x="1827.6" y="93.7" font-size="12.6" fill="#111" font-weight="bold" text-anchor="start" textLength="80" lengthAdjust="spacingAndGlyphs">PROPERTIES</text>
<text x="11.6" y="24.6" font-size="16.8" fill="#1c1c24" font-weight="bold" text-anchor="start" textLength="129.5" lengthAdjust="spacingAndGlyphs">CLB Synthesizer</text>
<rect x="213.9" y="12.55" width="12.2" height="1.9" fill="#111"/>
<rect x="213.9" y="16.7" width="12.2" height="1.9" fill="#111"/>
<rect x="213.9" y="20.85" width="12.2" height="1.9" fill="#111"/>
<rect x="213.9" y="48.35" width="12.2" height="1.9" fill="#111"/>
<rect x="213.9" y="52.5" width="12.2" height="1.9" fill="#111"/>
<rect x="213.9" y="56.65" width="12.2" height="1.9" fill="#111"/>
<path d="M11.6,53.2 L15.7,57.6 L19.8,53.2" fill="none" stroke="#333" stroke-width="1.4"/>
<text x="29.6" y="60.6" font-size="13" fill="#1c1c24" font-weight="bold" text-anchor="start" textLength="86.7" lengthAdjust="spacingAndGlyphs">DOCUMENTS</text>
<path d="M37.5,73.1 L43,73.1 A4.9,4.9 0 0 1 43,82.9 L37.5,82.9 Z" fill="none" stroke="#4b4be0" stroke-width="1.5"/>
<line x1="35" y1="76.1" x2="37.5" y2="76.1" stroke="#4b4be0" stroke-width="1.5"/>
<line x1="35" y1="79.9" x2="37.5" y2="79.9" stroke="#4b4be0" stroke-width="1.5"/>
<line x1="47.9" y1="78" x2="50.5" y2="78" stroke="#4b4be0" stroke-width="1.5"/>
<text x="57.6" y="82.6" font-size="15.5" fill="#333" font-weight="normal" text-anchor="start" >main</text>
<text x="37.4" y="103.7" font-size="14.8" fill="#a00c0c" font-weight="normal" text-anchor="start" font-family="Liberation Serif" textLength="11.2" lengthAdjust="spacingAndGlyphs">V</text>
<text x="57.8" y="102.6" font-size="15.5" fill="#333" font-weight="normal" text-anchor="start" textLength="128.1" lengthAdjust="spacingAndGlyphs">pic16f131_counter</text>
<rect x="213.1" y="70" width="13.7" height="13.8" rx="1.6" fill="#444"/>
<path d="M217.8,73.2 L223.4,76.9 L217.8,80.6 Z" fill="#f4f4f4"/>
<path d="M11.6,127.6 L15.7,132 L19.8,127.6" fill="none" stroke="#333" stroke-width="1.4"/>
<text x="29.6" y="136.4" font-size="13" fill="#1c1c24" font-weight="bold" text-anchor="start" textLength="96.5" lengthAdjust="spacingAndGlyphs">COMPONENTS</text>
<line x1="109.4" y1="163" x2="116.3" y2="163" stroke="#58584f" stroke-width="1.3" />
<path d="M38.3,156.45 L102.9,156.45 L109.4,163 L102.9,169.55 L38.3,169.55 Z" fill="#78d8f6" stroke="#2e4d5c" stroke-width="1.5"/>
<text x="41.5" y="166.4" font-size="8" fill="#0e3c52" font-weight="normal" text-anchor="start" textLength="44.5" lengthAdjust="spacingAndGlyphs">unconfigured</text>
<line x1="122.2" y1="163" x2="128.3" y2="163" stroke="#58584f" stroke-width="1.3" />
<path d="M199.6,156.45 L134.6,156.45 L128.3,163 L134.6,169.55 L199.6,169.55 Z" fill="#7cfcd9" stroke="#2b5648" stroke-width="1.4"/>
<text x="197" y="166" font-size="8" fill="#1d5440" font-weight="normal" text-anchor="end" textLength="44.5" lengthAdjust="spacingAndGlyphs">unconfigured</text>
<line x1="41.2" y1="186.7" x2="49.6" y2="186.7" stroke="#58584f" stroke-width="1.3" />
<line x1="41.2" y1="210.7" x2="49.6" y2="210.7" stroke="#58584f" stroke-width="1.3" />
<path d="M49.6,177.3 L82.4,177.3 A21.4,21.4 0 0 1 82.4,220.1 L49.6,220.1 Z" fill="#fffde6" stroke="#505048" stroke-width="1.4" stroke-linejoin="miter"/>
<line x1="103.8" y1="198.7" x2="112.7" y2="198.7" stroke="#58584f" stroke-width="1.3" />
<line x1="125.4" y1="186.7" x2="133.8" y2="186.7" stroke="#58584f" stroke-width="1.3" />
<line x1="125.4" y1="198.7" x2="133.8" y2="198.7" stroke="#58584f" stroke-width="1.3" />
<line x1="125.4" y1="210.7" x2="133.8" y2="210.7" stroke="#58584f" stroke-width="1.3" />
<path d="M133.8,177.3 L166.6,177.3 A21.4,21.4 0 0 1 166.6,220.1 L133.8,220.1 Z" fill="#fffde6" stroke="#505048" stroke-width="1.4" stroke-linejoin="miter"/>
<line x1="188" y1="198.7" x2="196.9" y2="198.7" stroke="#58584f" stroke-width="1.3" />
<line x1="41.2" y1="232.6" x2="49.6" y2="232.6" stroke="#58584f" stroke-width="1.3" />
<line x1="41.2" y1="244.6" x2="49.6" y2="244.6" stroke="#58584f" stroke-width="1.3" />
<line x1="41.2" y1="256.4" x2="49.6" y2="256.4" stroke="#58584f" stroke-width="1.3" />
<line x1="41.2" y1="268.4" x2="49.6" y2="268.4" stroke="#58584f" stroke-width="1.3" />
<path d="M49.6,229 L82.4,229 A21.4,21.4 0 0 1 82.4,271.8 L49.6,271.8 Z" fill="#fffde6" stroke="#505048" stroke-width="1.4" stroke-linejoin="miter"/>
<line x1="103.8" y1="250.4" x2="112.7" y2="250.4" stroke="#58584f" stroke-width="1.3" />
<line x1="125.4" y1="238.3" x2="133.8" y2="238.3" stroke="#58584f" stroke-width="1.3" />
<line x1="125.4" y1="262.6" x2="133.8" y2="262.6" stroke="#58584f" stroke-width="1.3" />
<path d="M133.8,229 L166.6,229 A21.4,21.4 0 0 1 166.6,271.8 L133.8,271.8 Z" fill="#fffde6" stroke="#505048" stroke-width="1.4" stroke-linejoin="miter"/>
<circle cx="190.9" cy="250.4" r="2.7" fill="#fffde6" stroke="#505048" stroke-width="1.2"/>
<line x1="193.6" y1="250.4" x2="197" y2="250.4" stroke="#58584f" stroke-width="1.3" />
<line x1="41" y1="289.8" x2="52.6" y2="289.8" stroke="#58584f" stroke-width="1.3" />
<line x1="41" y1="314" x2="52.6" y2="314" stroke="#58584f" stroke-width="1.3" />
<path d="M46.1,280.6 L72.64,280.6 C88.8,280.6 98.03,290.02 103.8,302 C98.03,313.98 88.8,323.4 72.64,323.4 L46.1,323.4 Q59.8,302 46.1,280.6 Z" fill="#fffde6" stroke="#505048" stroke-width="1.4"/>
<line x1="103.8" y1="302" x2="112.8" y2="302" stroke="#58584f" stroke-width="1.3" />
<line x1="125.1" y1="289.8" x2="136.7" y2="289.8" stroke="#58584f" stroke-width="1.3" />
<line x1="125.1" y1="302" x2="136.7" y2="302" stroke="#58584f" stroke-width="1.3" />
<line x1="125.1" y1="314" x2="136.7" y2="314" stroke="#58584f" stroke-width="1.3" />
<path d="M130.2,280.6 L156.74,280.6 C172.9,280.6 182.13,290.02 187.9,302 C182.13,313.98 172.9,323.4 156.74,323.4 L130.2,323.4 Q143.9,302 130.2,280.6 Z" fill="#fffde6" stroke="#505048" stroke-width="1.4"/>
<line x1="187.9" y1="302" x2="196.9" y2="302" stroke="#58584f" stroke-width="1.3" />
<line x1="41" y1="335.6" x2="52.6" y2="335.6" stroke="#58584f" stroke-width="1.3" />
<line x1="41" y1="347.9" x2="52.6" y2="347.9" stroke="#58584f" stroke-width="1.3" />
<line x1="41" y1="359.8" x2="52.6" y2="359.8" stroke="#58584f" stroke-width="1.3" />
<line x1="41" y1="371.8" x2="52.6" y2="371.8" stroke="#58584f" stroke-width="1.3" />
<path d="M46.1,332.3 L72.64,332.3 C88.8,332.3 98.03,341.72 103.8,353.7 C98.03,365.68 88.8,375.1 72.64,375.1 L46.1,375.1 Q59.8,353.7 46.1,332.3 Z" fill="#fffde6" stroke="#505048" stroke-width="1.4"/>
<line x1="103.8" y1="353.7" x2="112.8" y2="353.7" stroke="#58584f" stroke-width="1.3" />
<line x1="125.1" y1="341.8" x2="136.7" y2="341.8" stroke="#58584f" stroke-width="1.3" />
<line x1="125.1" y1="366" x2="136.7" y2="366" stroke="#58584f" stroke-width="1.3" />
<path d="M130.2,332.3 L156.74,332.3 C172.9,332.3 182.13,341.72 187.9,353.7 C182.13,365.68 172.9,375.1 156.74,375.1 L130.2,375.1 Q143.9,353.7 130.2,332.3 Z" fill="#fffde6" stroke="#505048" stroke-width="1.4"/>
<circle cx="190.9" cy="353.7" r="2.7" fill="#fffde6" stroke="#505048" stroke-width="1.2"/>
<line x1="193.6" y1="353.7" x2="196.9" y2="353.7" stroke="#58584f" stroke-width="1.3" />
<line x1="41" y1="393" x2="53.1" y2="393" stroke="#58584f" stroke-width="1.3" />
<line x1="41" y1="417.3" x2="53.1" y2="417.3" stroke="#58584f" stroke-width="1.3" />
<path d="M46.6,383.9 L73.14,383.9 C89.3,383.9 98.53,393.32 104.3,405.3 C98.53,417.28 89.3,426.7 73.14,426.7 L46.6,426.7 Q60.3,405.3 46.6,383.9 Z" fill="#fffde6" stroke="#505048" stroke-width="1.4"/>
<path d="M42,383.9 Q55.7,405.3 42,426.7" fill="none" stroke="#505048" stroke-width="1.4"/>
<line x1="104.3" y1="405.3" x2="113.3" y2="405.3" stroke="#58584f" stroke-width="1.3" />
<line x1="125.1" y1="393" x2="137.2" y2="393" stroke="#58584f" stroke-width="1.3" />
<line x1="125.1" y1="405.3" x2="137.2" y2="405.3" stroke="#58584f" stroke-width="1.3" />
<line x1="125.1" y1="417.3" x2="137.2" y2="417.3" stroke="#58584f" stroke-width="1.3" />
<path d="M130.7,383.9 L157.24,383.9 C173.4,383.9 182.63,393.32 188.4,405.3 C182.63,417.28 173.4,426.7 157.24,426.7 L130.7,426.7 Q144.4,405.3 130.7,383.9 Z" fill="#fffde6" stroke="#505048" stroke-width="1.4"/>
<path d="M126.1,383.9 Q139.8,405.3 126.1,426.7" fill="none" stroke="#505048" stroke-width="1.4"/>
<line x1="188.4" y1="405.3" x2="197.4" y2="405.3" stroke="#58584f" stroke-width="1.3" />
<line x1="41" y1="437.8" x2="53.1" y2="437.8" stroke="#58584f" stroke-width="1.3" />
<line x1="41" y1="451" x2="53.1" y2="451" stroke="#58584f" stroke-width="1.3" />
<line x1="41" y1="463.1" x2="53.1" y2="463.1" stroke="#58584f" stroke-width="1.3" />
<line x1="41" y1="475" x2="53.1" y2="475" stroke="#58584f" stroke-width="1.3" />
<path d="M46.6,435.6 L73.14,435.6 C89.3,435.6 98.53,445.02 104.3,457 C98.53,468.98 89.3,478.4 73.14,478.4 L46.6,478.4 Q60.3,457 46.6,435.6 Z" fill="#fffde6" stroke="#505048" stroke-width="1.4"/>
<path d="M42,435.6 Q55.7,457 42,478.4" fill="none" stroke="#505048" stroke-width="1.4"/>
<line x1="104.3" y1="457" x2="113.3" y2="457" stroke="#58584f" stroke-width="1.3" />
<line x1="125.1" y1="444.9" x2="137.2" y2="444.9" stroke="#58584f" stroke-width="1.3" />
<line x1="125.1" y1="468.6" x2="137.2" y2="468.6" stroke="#58584f" stroke-width="1.3" />
<path d="M130.7,435.6 L157.24,435.6 C173.4,435.6 182.63,445.02 188.4,457 C182.63,468.98 173.4,478.4 157.24,478.4 L130.7,478.4 Q144.4,457 130.7,435.6 Z" fill="#fffde6" stroke="#505048" stroke-width="1.4"/>
<path d="M126.1,435.6 Q139.8,457 126.1,478.4" fill="none" stroke="#505048" stroke-width="1.4"/>
<circle cx="191.4" cy="457" r="2.7" fill="#fffde6" stroke="#505048" stroke-width="1.2"/>
<line x1="194.1" y1="457" x2="197.4" y2="457" stroke="#58584f" stroke-width="1.3" />
<line x1="53.6" y1="508.6" x2="65.4" y2="508.6" stroke="#58584f" stroke-width="1.3" />
<path d="M65.4,493.6 L88.7,508.6 L65.4,523.8 Z" fill="#fffde6" stroke="#505048" stroke-width="1.4"/>
<circle cx="91.6" cy="508.6" r="2.8" fill="#fffde6" stroke="#505048" stroke-width="1.2"/>
<line x1="94.4" y1="508.6" x2="101.5" y2="508.6" stroke="#58584f" stroke-width="1.3" />
<line x1="131.4" y1="496.5" x2="142.8" y2="496.5" stroke="#58584f" stroke-width="1.3" />
<line x1="179.3" y1="496.5" x2="190.7" y2="496.5" stroke="#58584f" stroke-width="1.3" />
<rect x="142.8" y="487.4" width="36.5" height="42" fill="#fffde6" stroke="#505048" stroke-width="1.4"/>
<path d="M142.8,505.37 L149.24,508.5 L142.8,511.63" fill="none" stroke="#505048" stroke-width="1.2"/>
<text x="145.8" y="500" font-size="9.8" fill="#3a3a33" font-weight="bold" text-anchor="start" >D</text>
<text x="176.1" y="500" font-size="9.8" fill="#3a3a33" font-weight="bold" text-anchor="end" >Q</text>
<line x1="47.3" y1="548.1" x2="58.7" y2="548.1" stroke="#58584f" stroke-width="1.3" />
<line x1="95.3" y1="548.1" x2="106.7" y2="548.1" stroke="#58584f" stroke-width="1.3" />
<line x1="47.3" y1="572.1" x2="58.7" y2="572.1" stroke="#58584f" stroke-width="1.3" />
<rect x="58.7" y="539" width="36.6" height="42.4" fill="#fffde6" stroke="#505048" stroke-width="1.4"/>
<path d="M58.7,557.17 L65.14,560.3 L58.7,563.43" fill="none" stroke="#505048" stroke-width="1.2"/>
<text x="61.7" y="551.6" font-size="9.8" fill="#3a3a33" font-weight="bold" text-anchor="start" >D</text>
<text x="92.1" y="551.6" font-size="9.8" fill="#3a3a33" font-weight="bold" text-anchor="end" >Q</text>
<text x="61.7" y="575.9" font-size="9.8" fill="#3a3a33" font-weight="bold" text-anchor="start" >EN</text>
<line x1="131.4" y1="554" x2="142.8" y2="554" stroke="#58584f" stroke-width="1.3" />
<line x1="179.3" y1="554" x2="190.7" y2="554" stroke="#58584f" stroke-width="1.3" />
<line x1="131.4" y1="577.7" x2="142.8" y2="577.7" stroke="#58584f" stroke-width="1.3" />
<rect x="142.8" y="539" width="36.5" height="54.5" fill="#fffde6" stroke="#505048" stroke-width="1.4"/>
<path d="M142.8,563.07 L149.24,566.2 L142.8,569.33" fill="none" stroke="#505048" stroke-width="1.2"/>
<text x="145.8" y="557.5" font-size="9.8" fill="#3a3a33" font-weight="bold" text-anchor="start" >D</text>
<text x="176.1" y="557.5" font-size="9.8" fill="#3a3a33" font-weight="bold" text-anchor="end" >Q</text>
<text x="145.8" y="581.5" font-size="9.8" fill="#3a3a33" font-weight="bold" text-anchor="start" >EN</text>
<text x="161.2" y="591.3" font-size="9.3" fill="#3a3a33" font-weight="bold" text-anchor="middle" >R</text>
<line x1="161.2" y1="593.5" x2="161.2" y2="602.2" stroke="#58584f" stroke-width="1.3" />
<line x1="47.2" y1="621.3" x2="58.7" y2="621.3" stroke="#58584f" stroke-width="1.3" />
<line x1="47.2" y1="645.4" x2="58.7" y2="645.4" stroke="#58584f" stroke-width="1.3" />
<line x1="95.3" y1="621.3" x2="106.5" y2="621.3" stroke="#58584f" stroke-width="1.3" />
<rect x="58.7" y="612.2" width="36.6" height="42.1" fill="#fffde6" stroke="#505048" stroke-width="1.4"/>
<path d="M58.7,630.07 L65.14,633.2 L58.7,636.33" fill="none" stroke="#505048" stroke-width="1.2"/>
<text x="61.8" y="625.3" font-size="10" fill="#3a3a33" font-weight="bold" text-anchor="start" >J</text>
<text x="91.9" y="625.3" font-size="10" fill="#3a3a33" font-weight="bold" text-anchor="end" >Q</text>
<text x="61.8" y="649.4" font-size="10" fill="#3a3a33" font-weight="bold" text-anchor="start" >K</text>
<line x1="143.1" y1="621.3" x2="154.6" y2="621.3" stroke="#58584f" stroke-width="1.3" />
<line x1="143.1" y1="645.4" x2="154.6" y2="645.4" stroke="#58584f" stroke-width="1.3" />
<line x1="167.2" y1="633.2" x2="178.7" y2="633.2" stroke="#58584f" stroke-width="1.3" />
<line x1="161" y1="654" x2="161" y2="663.4" stroke="#58584f" stroke-width="1.3" />
<path d="M154.6,611.8 L167.2,614.8 L167.2,651.4 L154.6,654.3 Z" fill="#fffde6" stroke="#505048" stroke-width="1.4"/>
<text x="160.9" y="625" font-size="10" fill="#3a3a33" font-weight="bold" text-anchor="middle" >1</text>
<text x="160.9" y="649.2" font-size="10" fill="#3a3a33" font-weight="bold" text-anchor="middle" >0</text>
<line x1="47.2" y1="682.7" x2="58.7" y2="682.7" stroke="#58584f" stroke-width="1.3" />
<line x1="47.2" y1="694.4" x2="58.7" y2="694.4" stroke="#58584f" stroke-width="1.3" />
<line x1="47.2" y1="706.4" x2="58.7" y2="706.4" stroke="#58584f" stroke-width="1.3" />
<line x1="47.2" y1="718.3" x2="58.7" y2="718.3" stroke="#58584f" stroke-width="1.3" />
<line x1="95.3" y1="700.2" x2="106.5" y2="700.2" stroke="#58584f" stroke-width="1.3" />
<line x1="70.9" y1="725" x2="70.9" y2="736.4" stroke="#58584f" stroke-width="1.3" />
<line x1="82.8" y1="720" x2="82.8" y2="736.4" stroke="#58584f" stroke-width="1.3" />
<path d="M58.7,673.2 L95.3,685.3 L95.3,715.3 L58.7,727.7 Z" fill="#fffde6" stroke="#505048" stroke-width="1.4"/>
<text x="61.6" y="686.5" font-size="10" fill="#3a3a33" font-weight="bold" text-anchor="start" >3</text>
<text x="61.6" y="698.2" font-size="10" fill="#3a3a33" font-weight="bold" text-anchor="start" >2</text>
<text x="61.6" y="710.2" font-size="10" fill="#3a3a33" font-weight="bold" text-anchor="start" >1</text>
<text x="61.6" y="722.1" font-size="10" fill="#3a3a33" font-weight="bold" text-anchor="start" >0</text>
<text x="69" y="717.6" font-size="10" fill="#3a3a33" font-weight="bold" text-anchor="start" >S0</text>
<text x="80.8" y="712.6" font-size="10" fill="#3a3a33" font-weight="bold" text-anchor="start" >S1</text>
<line x1="125.1" y1="682.7" x2="136.6" y2="682.7" stroke="#58584f" stroke-width="1.3" />
<line x1="125.1" y1="694.4" x2="136.6" y2="694.4" stroke="#58584f" stroke-width="1.3" />
<line x1="125.1" y1="706.4" x2="136.6" y2="706.4" stroke="#58584f" stroke-width="1.3" />
<line x1="125.1" y1="718.3" x2="136.6" y2="718.3" stroke="#58584f" stroke-width="1.3" />
<line x1="185.6" y1="700.2" x2="196.8" y2="700.2" stroke="#58584f" stroke-width="1.3" />
<rect x="136.6" y="673.6" width="49" height="53.8" fill="#fffde6" stroke="#505048" stroke-width="1.4"/>
<text x="139.3" y="686.3" font-size="10" fill="#3a3a33" font-weight="bold" text-anchor="start" >A</text>
<text x="139.3" y="698" font-size="10" fill="#3a3a33" font-weight="bold" text-anchor="start" >B</text>
<text x="139.3" y="710" font-size="10" fill="#3a3a33" font-weight="bold" text-anchor="start" >C</text>
<text x="139.3" y="721.9" font-size="10" fill="#3a3a33" font-weight="bold" text-anchor="start" >D</text>
<text x="183.3" y="704" font-size="9.5" fill="#3a3a33" font-weight="bold" text-anchor="end" >Q</text>
<text x="0" y="0" font-size="9.3" fill="#3a3a33" text-anchor="middle" transform="translate(165.0,700.0) rotate(-90)">Table</text>
<line x1="156.6" y1="703.8" x2="165.4" y2="703.8" stroke="#555" stroke-width="1.0" />
<text x="161" y="723" font-size="6.2" fill="#707068" font-weight="normal" text-anchor="middle" >0000</text>
<rect x="52.7" y="743.4" width="12.7" height="12.4" fill="#fffde6" stroke="#505048" stroke-width="1.4"/>
<text x="59.05" y="753" font-size="8.6" fill="#3a3a33" font-weight="normal" text-anchor="middle" >1</text>
<line x1="65.4" y1="749.6" x2="76.6" y2="749.6" stroke="#58584f" stroke-width="1.3" />
<rect x="136.5" y="743.4" width="13.2" height="12.4" fill="#fffde6" stroke="#505048" stroke-width="1.4"/>
<text x="143.1" y="753" font-size="8.6" fill="#3a3a33" font-weight="normal" text-anchor="middle" >0</text>
<line x1="149.7" y1="749.6" x2="160.5" y2="749.6" stroke="#58584f" stroke-width="1.3" />
<rect x="53.2" y="762.8" width="35.3" height="67.2" fill="#fffde6" stroke="#505048" stroke-width="1.4"/>
<line x1="88.5" y1="771.8" x2="101" y2="771.8" stroke="#58584f" stroke-width="1.3" />
<text x="70.9" y="775" font-size="8.3" fill="#3a3a33" font-weight="normal" text-anchor="middle" >0:1</text>
<line x1="88.5" y1="783.7" x2="101" y2="783.7" stroke="#58584f" stroke-width="1.3" />
<text x="70.9" y="786.9" font-size="8.3" fill="#3a3a33" font-weight="normal" text-anchor="middle" >1:0</text>
<line x1="88.5" y1="795.7" x2="101" y2="795.7" stroke="#58584f" stroke-width="1.3" />
<text x="70.9" y="798.9" font-size="8.3" fill="#3a3a33" font-weight="normal" text-anchor="middle" >2:1</text>
<text x="70.9" y="812.3" font-size="7.0" fill="#3a3a33" font-weight="normal" text-anchor="middle" >0x5</text>
<text x="160.9" y="785.2" font-size="7.9" fill="#555" font-weight="normal" text-anchor="middle" >net_label</text>
</svg>
</body></html>
